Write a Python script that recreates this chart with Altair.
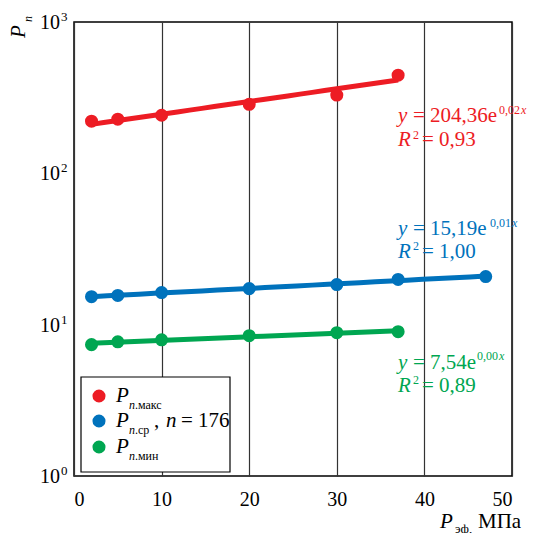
import altair as alt
import pandas as pd

RED = "#ed1c24"
BLUE = "#0072bc"
GREEN = "#00a651"
FONT = "'Liberation Serif', 'DejaVu Serif', 'Times New Roman', serif"

# ---- data ----
series = ["max", "avg", "min"]
x_max = [2, 5, 10, 20, 30, 37]
y_max = [221, 228, 242, 286, 329, 445]
x_avg = [2, 5, 10, 20, 30, 37, 47]
y_avg = [15.3, 15.6, 16.3, 17.3, 18.4, 19.9, 20.8]
x_min = [2, 5, 10, 20, 30, 37]
y_min = [7.38, 7.7, 7.94, 8.45, 8.85, 8.99]
x_ticks = [0, 10, 20, 30, 40, 50]
y_ticks = [1, 10, 100, 1000]
y_exps = ["0", "1", "2", "3"]

rows = []
for s, xs_, ys_ in zip(series, [x_max, x_avg, x_min], [y_max, y_avg, y_min]):
    for a, b in zip(xs_, ys_):
        rows.append({"series": s, "x": a, "y": b})
df = pd.DataFrame(rows)

W, H = 438, 454
xsc = alt.Scale(domain=[0, 50], nice=False, zero=False)
ysc = alt.Scale(type="log", domain=[1, 1000], nice=False)
col = alt.Color("series:N", scale=alt.Scale(domain=series, range=[RED, BLUE, GREEN]), legend=None)

x_axis = alt.Axis(values=x_ticks, format="d", title=None, grid=True, gridColor="#333",
                  gridWidth=1.2, ticks=False, domain=False, labelFont=FONT, labelFontSize=20,
                  labelColor="black", labelPadding=13)
y_axis = alt.Axis(values=y_ticks, title=None, grid=True, gridColor="#333", gridWidth=1.2,
                  ticks=False, domain=False, labels=False)

base = alt.Chart(df)
lines = base.transform_regression("x", "y", groupby=["series"], method="exp").mark_line(
    strokeWidth=5).encode(
    x=alt.X("x:Q", scale=xsc, axis=x_axis),
    y=alt.Y("y:Q", scale=ysc, axis=y_axis),
    color=col)
points = base.mark_circle(size=170, opacity=1).encode(
    x=alt.X("x:Q", scale=xsc, axis=x_axis),
    y=alt.Y("y:Q", scale=ysc, axis=y_axis),
    color=col)

# y tick labels 10^n
ylab = pd.DataFrame({"v": y_ticks, "b": ["10"] * 4, "e": y_exps})
ylab_base = alt.Chart(ylab).mark_text(align="right", baseline="alphabetic", dy=7, fontSize=20,
                                      font=FONT, color="black").encode(
    x=alt.value(-14), y=alt.Y("v:Q", scale=ysc, axis=None), text="b:N")
ylab_exp = alt.Chart(ylab).mark_text(align="left", baseline="alphabetic", dy=-1, fontSize=13,
                                     font=FONT, color="black").encode(
    x=alt.value(-13), y=alt.Y("v:Q", scale=ysc, axis=None), text="e:N")

# legend box
legend_box = alt.Chart(pd.DataFrame({"a": [0]})).mark_rect(
    fill="white", stroke="black", strokeWidth=1.2).encode(
    x=alt.value(7), x2=alt.value(156), y=alt.value(355), y2=alt.value(450))
leg_dots = alt.Chart(pd.DataFrame({"series": series, "py": [374, 399, 425]})).mark_circle(
    size=170, opacity=1).encode(
    x=alt.value(25), y=alt.Y("py:Q", scale=None, axis=None), color=col)

# annotations: text, x, y, size, color, italic, angle
ann = [
    ("y", 324, 100, 21, RED, True, 0), ("= 204,36e", 339, 100, 21, RED, False, 0),
    ("0,02", 425, 92, 12, RED, False, 0), ("x", 447, 92, 12, RED, True, 0),
    ("R", 324, 124, 21, RED, True, 0), ("2", 339, 117, 12, RED, False, 0),
    ("= 0,93", 348, 124, 21, RED, False, 0),
    ("y", 324, 213, 21, BLUE, True, 0), ("= 15,19e", 339, 213, 21, BLUE, False, 0),
    ("0,01", 416, 205, 12, BLUE, False, 0), ("x", 438, 205, 12, BLUE, True, 0),
    ("R", 324, 236, 21, BLUE, True, 0), ("2", 339, 228, 12, BLUE, False, 0),
    ("= 1,00", 348, 236, 21, BLUE, False, 0),
    ("y", 324, 347, 21, GREEN, True, 0), ("= 7,54e", 339, 347, 21, GREEN, False, 0),
    ("0,00", 403, 338, 12, GREEN, False, 0), ("x", 425, 338, 12, GREEN, True, 0),
    ("R", 324, 370, 21, GREEN, True, 0), ("2", 339, 362, 12, GREEN, False, 0),
    ("= 0,89", 348, 370, 21, GREEN, False, 0),
    # legend labels
    ("P", 42, 380, 21, "black", True, 0), ("n", 55, 387, 12, "black", True, 0),
    (".макс", 61, 387, 12, "black", False, 0),
    ("P", 42, 405, 21, "black", True, 0), ("n", 55, 412, 12, "black", True, 0),
    (".ср", 61, 412, 12, "black", False, 0), (",", 80, 405, 21, "black", False, 0),
    ("n", 92, 405, 21, "black", True, 0), ("= 176", 107, 405, 21, "black", False, 0),
    ("P", 42, 431, 21, "black", True, 0), ("n", 55, 438, 12, "black", True, 0),
    (".мин", 61, 438, 12, "black", False, 0),
    # axis titles
    ("P", -49, 16, 21, "black", True, 270), ("n", -42, 0, 12, "black", True, 270),
    ("P", 366, 506, 21, "black", True, 0), ("эф,", 381, 511, 13, "black", False, 0),
    ("МПа", 404, 506, 21, "black", False, 0),
]
ann_df = pd.DataFrame(ann, columns=["t", "px", "py", "s", "c", "it", "a"])


def text_layer(italic):
    d = ann_df[ann_df["it"] == italic]
    return alt.Chart(d).mark_text(align="left", baseline="alphabetic", font=FONT,
                                  fontStyle="italic" if italic else "normal").encode(
        x=alt.X("px:Q", scale=None, axis=None),
        y=alt.Y("py:Q", scale=None, axis=None),
        text="t:N",
        size=alt.Size("s:Q", scale=None, legend=None),
        color=alt.Color("c:N", scale=None, legend=None),
        angle=alt.Angle("a:Q", scale=None),
    )


chart = alt.layer(
    lines, points, ylab_base, ylab_exp, legend_box, leg_dots,
    text_layer(False), text_layer(True)
).properties(
    width=W, height=H,
    autosize=alt.AutoSizeParams(type="none"),
    padding={"left": 66, "top": 14, "right": 20, "bottom": 57},
).configure_view(stroke="black", strokeWidth=1.5)

chart.save("out.html", embed_options={"renderer": "svg", "actions": False})
